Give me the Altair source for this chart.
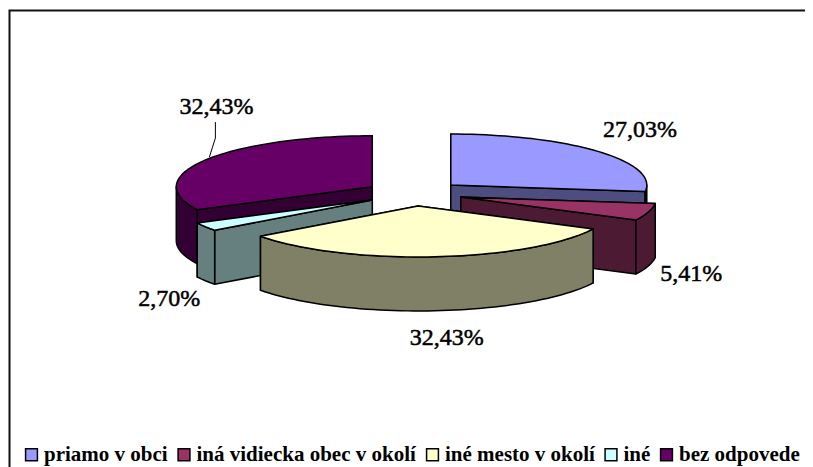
import math
import altair as alt

# --- chart values ---
categories = ["priamo v obci", "iná vidiecka obec v okolí", "iné mesto v okolí", "iné", "bez odpovede"]
values = [27.03, 5.41, 32.43, 2.70, 32.43]
labels = ["27,03%", "5,41%", "32,43%", "2,70%", "32,43%"]
top_colors = ["#9999FF", "#993366", "#FFFFCC", "#CCFFFF", "#660066"]
side_colors = ["#4D4D80", "#4D1A33", "#808066", "#668080", "#330033"]

# --- layout of the pseudo-3D pie (chart pixels) ---
W, H = 797, 459
CX, CY = 406.0, 185.4      # pie centre
RX, RY = 196.0, 51.0       # ellipse radii
DEPTH = 54.0               # extrusion
EX, EY = 49.0, 12.6        # explosion distance
paint_order = [0, 4, 1, 3, 2]
label_offsets = [(42, -21), (43, 62), (12, 81), (-36, 72), (11, -53)]


def rim(t, a):
    r = math.radians(t)
    return (a[0] + RX * math.sin(r), a[1] - RY * math.cos(r))


def arc(t1, t2, a, dy=0.0):
    n = max(2, int(abs(t2 - t1) / 2))
    pts = [rim(t1 + (t2 - t1) * i / n, a) for i in range(n + 1)]
    return [[x, y + dy] for x, y in pts]


def poly(pts):
    return {"type": "Polygon", "coordinates": [list(pts) + [pts[0]]]}


total = sum(values)
angles = []
acc = 0.0
for v in values:
    angles.append((acc, acc + v / total * 360))
    acc += v / total * 360

apexes = []
for t1, t2 in angles:
    m = math.radians((t1 + t2) / 2)
    apexes.append((CX + EX * math.sin(m), CY - EY * math.cos(m)))

faces = []
for i in paint_order:
    t1, t2 = angles[i]
    a = apexes[i]
    cat = categories[i]
    side = cat + " (bok)"
    # back cut face first, front cut face over it
    for t in sorted((t1, t2), key=lambda tt: rim(tt, a)[1]):
        e = rim(t, a)
        quad = [list(a), list(e), [e[0], e[1] + DEPTH], [a[0], a[1] + DEPTH]]
        faces.append({"type": "Feature", "geometry": poly(quad), "properties": {"k": side}})
    lo, hi = max(t1, 90.0), min(t2, 270.0)
    if hi > lo:
        wall = arc(lo, hi, a) + arc(hi, lo, a, DEPTH)
        faces.append({"type": "Feature", "geometry": poly(wall), "properties": {"k": side}})
    top = [list(a)] + arc(t1, t2, a)
    faces.append({"type": "Feature", "geometry": poly(top), "properties": {"k": cat}})

label_rows = []
for i, lab in enumerate(labels):
    mid = sum(angles[i]) / 2
    x, y = rim(mid, apexes[i])
    dx, dy = label_offsets[i]
    label_rows.append({"lon": x + dx, "lat": y + dy, "t": lab})

PROJ = dict(type="identity", scale=1, translate=[0, 0])

frame = alt.Chart(alt.Data(values=[{
    "type": "Feature",
    "geometry": {"type": "LineString", "coordinates": [[1.5, H], [1.5, 2.5], [W, 2.5]]},
    "properties": {},
}])).mark_geoshape(filled=False, stroke="#111111", strokeWidth=2).project(**PROJ)

domain = categories + [c + " (bok)" for c in categories]
color = alt.Color(
    "properties.k:N",
    scale=alt.Scale(domain=domain, range=top_colors + side_colors),
    legend=alt.Legend(
        title=None,
        values=categories,
        orient="none",
        legendX=13,
        legendY=436,
        direction="horizontal",
        columns=5,
        columnPadding=5.5,
        symbolType="square",
        symbolSize=140,
        symbolStrokeColor="#000000",
        symbolStrokeWidth=1.5,
        labelFont="Liberation Serif",
        labelFontSize=21,
        labelFontWeight="bold",
        labelColor="#000000",
        labelOffset=2,
        labelLimit=400,
    ),
)

pie = alt.Chart(alt.Data(values=faces)).mark_geoshape(
    stroke="#000000", strokeWidth=1.5, strokeJoin="round"
).encode(color=color).project(**PROJ)

s5_mid = rim(sum(angles[4]) / 2, apexes[4])
leader = alt.Chart(alt.Data(values=[{
    "type": "Feature",
    "geometry": {"type": "LineString", "coordinates": [
        [s5_mid[0] + 4, s5_mid[1] - 3],
        [s5_mid[0] + 4 + 6, s5_mid[1] - 22],
        [s5_mid[0] + 4 + 6, s5_mid[1] - 38],
    ]},
    "properties": {},
}])).mark_geoshape(filled=False, stroke="#000000", strokeWidth=1).project(**PROJ)

text = alt.Chart(alt.Data(values=label_rows)).mark_text(
    font="Liberation Serif", fontSize=24, color="#000000", align="center", baseline="middle",
    stroke="#000000", strokeWidth=0.5,
).encode(longitude="lon:Q", latitude="lat:Q", text="t:N").project(**PROJ)

chart = alt.layer(frame, pie, leader, text).properties(
    width=W, height=H, padding=0, autosize=alt.AutoSizeParams(type="none"),
    background="white",
).configure_view(stroke=None)

chart.save("out.html", embed_options={"renderer": "svg", "actions": False})
